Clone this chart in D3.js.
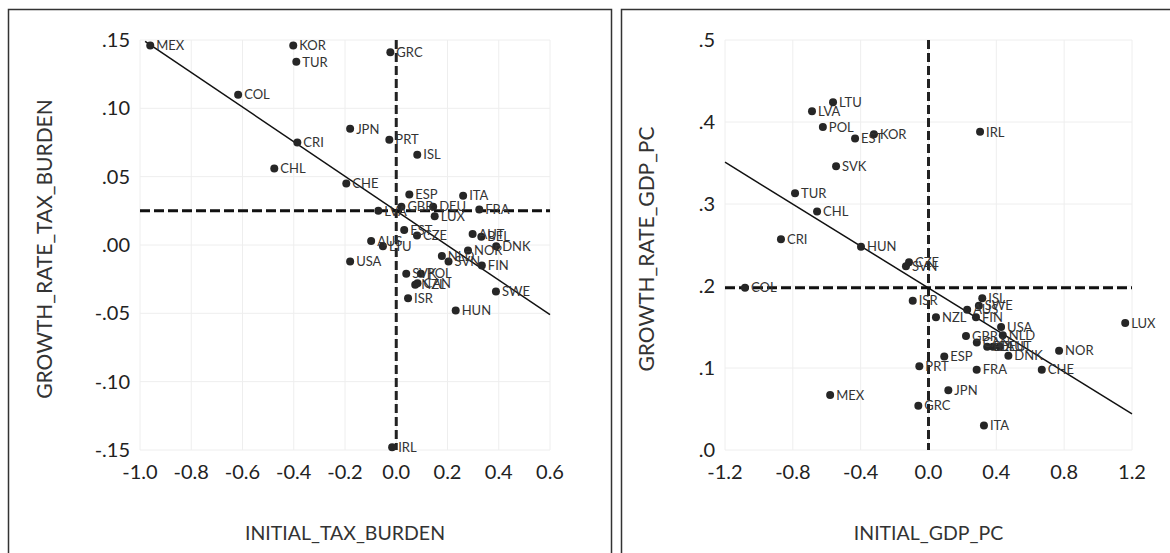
<html>
  <head>
    <script src="https://d3js.org/d3.v7.min.js"></script>
  </head>
  <style type="text/css">
    body { margin: 0; background: #fff; }
    svg { font-family: Lato, "Open Sans", sans-serif; }
    .tick-label { font-size: 20px; fill: #222; }
    .axis-title { font-size: 19.5px; fill: #333; }
    .y-title { font-size: 21px; fill: #333; }
    .code { font-size: 13px; fill: #333; }
    .grid line { stroke: #eeeeee; stroke-width: 1; }
  </style>
  <body>
    <div id="chart"></div>
  </body>
  <script type="text/javascript">
    /* left panel: initial tax burden vs growth rate of tax burden */
    var taxCodes = ["MEX","KOR","TUR","GRC","COL","JPN","PRT","CRI","ISL","CHL","CHE","ESP","ITA","GBR","DEU","FRA","LVA","LUX","EST","CZE","AUT","BEL","DNK","NOR","AUS","LTU","USA","NLD","SVN","FIN","SVK","POL","CAN","NZL","ISR","SWE","HUN","IRL"];
    var taxX = [-0.960,-0.402,-0.390,-0.023,-0.617,-0.180,-0.027,-0.386,0.082,-0.476,-0.195,0.051,0.261,0.020,0.144,0.324,-0.070,0.150,0.031,0.081,0.298,0.332,0.390,0.280,-0.098,-0.052,-0.180,0.178,0.204,0.334,0.039,0.096,0.083,0.074,0.046,0.389,0.232,-0.016];
    var taxY = [0.146,0.146,0.134,0.141,0.110,0.085,0.077,0.075,0.066,0.056,0.045,0.037,0.036,0.028,0.028,0.026,0.025,0.021,0.011,0.007,0.008,0.006,-0.001,-0.004,0.003,-0.001,-0.012,-0.008,-0.012,-0.015,-0.021,-0.021,-0.028,-0.029,-0.039,-0.034,-0.048,-0.148];
    var taxXTicks = [-1.0,-0.8,-0.6,-0.4,-0.2,0.0,0.2,0.4,0.6];
    var taxYTicks = [0.15,0.10,0.05,0.00,-0.05,-0.10,-0.15];
    var taxYLabels = [".15",".10",".05",".00","-.05","-.10","-.15"];
    var taxFitX = [-0.98, 0.60];
    var taxFitY = [0.149, -0.051];
    var taxMeanY = 0.025;

    /* right panel: initial GDP per capita vs growth rate of GDP per capita */
    var gdpCodes = ["LTU","LVA","POL","EST","KOR","IRL","SVK","TUR","CHL","CRI","HUN","CZE","SVN","COL","ISR","ISL","SWE","AUS","FIN","NZL","USA","NLD","GBR","CAN","BEL","DEU","AUT","DNK","NOR","LUX","ESP","PRT","FRA","CHE","JPN","MEX","GRC","ITA"];
    var gdpX = [-0.563,-0.687,-0.623,-0.433,-0.322,0.304,-0.545,-0.787,-0.657,-0.870,-0.398,-0.115,-0.133,-1.082,-0.093,0.317,0.297,0.228,0.280,0.044,0.428,0.438,0.221,0.285,0.346,0.380,0.420,0.471,0.770,1.160,0.093,-0.054,0.284,0.668,0.117,-0.580,-0.060,0.327];
    var gdpY = [0.424,0.413,0.394,0.380,0.385,0.388,0.346,0.313,0.291,0.257,0.248,0.229,0.224,0.198,0.182,0.185,0.176,0.171,0.162,0.162,0.150,0.140,0.139,0.131,0.126,0.126,0.126,0.115,0.121,0.155,0.114,0.102,0.098,0.098,0.073,0.067,0.054,0.030];
    var gdpXTicks = [-1.2,-0.8,-0.4,0.0,0.4,0.8,1.2];
    var gdpYTicks = [0.5,0.4,0.3,0.2,0.1,0.0];
    var gdpYLabels = [".5",".4",".3",".2",".1",".0"];
    var gdpFitX = [-1.2, 1.2];
    var gdpFitY = [0.351, 0.044];
    var gdpMeanY = 0.198;

    var width = 1170, height = 553;
    var svg = d3.select("#chart").append("svg")
      .attr("width", width)
      .attr("height", height);

    function drawPanel(p) {
      var g = svg.append("g");

      g.append("rect")
        .attr("x", p.box[0]).attr("y", p.box[1])
        .attr("width", p.box[2]).attr("height", p.box[3])
        .attr("fill", "none").attr("stroke", "#333").attr("stroke-width", 1.5);

      var x = d3.scaleLinear().domain(p.xDomain).range(p.xRange);
      var y = d3.scaleLinear().domain(p.yDomain).range([450, 40]);

      // grid
      var grid = g.append("g").attr("class", "grid");
      grid.selectAll(".gx").data(p.xTicks).enter().append("line")
        .attr("x1", d => x(d)).attr("x2", d => x(d))
        .attr("y1", y.range()[1]).attr("y2", y.range()[0]);
      grid.selectAll(".gy").data(p.yTicks).enter().append("line")
        .attr("x1", p.xRange[0]).attr("x2", p.xRange[1])
        .attr("y1", d => y(d)).attr("y2", d => y(d));

      // tick labels
      g.selectAll(".xt").data(p.xTicks).enter().append("text")
        .attr("class", "tick-label")
        .attr("x", d => x(d)).attr("y", 479)
        .attr("text-anchor", "middle")
        .text(d => d3.format(".1f")(d).replace("−", "-"));
      g.selectAll(".yt").data(p.yTicks).enter().append("text")
        .attr("class", "tick-label")
        .attr("x", p.xRange[0] - 10).attr("y", d => y(d))
        .attr("dy", "0.35em")
        .attr("text-anchor", "end")
        .text((d, i) => p.yLabels[i]);

      // titles
      g.append("text").attr("class", "axis-title")
        .attr("x", (p.xRange[0] + p.xRange[1]) / 2).attr("y", 540)
        .attr("text-anchor", "middle").text(p.xTitle);
      g.append("text").attr("class", "y-title")
        .attr("transform", `translate(${p.yTitleX}, 249) rotate(-90)`)
        .attr("text-anchor", "middle").text(p.yTitle);

      // mean lines
      g.append("line")
        .attr("x1", x(0)).attr("x2", x(0))
        .attr("y1", y.range()[1]).attr("y2", y.range()[0])
        .attr("stroke", "#222").attr("stroke-width", 3).attr("stroke-dasharray", "9,4");
      g.append("line")
        .attr("x1", p.xRange[0]).attr("x2", p.xRange[1])
        .attr("y1", y(p.meanY)).attr("y2", y(p.meanY))
        .attr("stroke", "#111").attr("stroke-width", 3).attr("stroke-dasharray", "10,4");

      // fit line
      g.append("line")
        .attr("x1", x(p.fitX[0])).attr("y1", y(p.fitY[0]))
        .attr("x2", x(p.fitX[1])).attr("y2", y(p.fitY[1]))
        .attr("stroke", "#111").attr("stroke-width", 1.5);

      // points
      var pts = p.codes.map((c, i) => ({code: c, x: p.xs[i], y: p.ys[i]}));
      g.selectAll(".dot").data(pts).enter().append("circle")
        .attr("cx", d => x(d.x)).attr("cy", d => y(d.y))
        .attr("r", 4).attr("fill", "#262626");
      g.selectAll(".code").data(pts).enter().append("text")
        .attr("class", "code")
        .attr("x", d => x(d.x) + 6).attr("y", d => y(d.y))
        .attr("dy", "0.36em")
        .text(d => d.code);
    }

    drawPanel({
      box: [8.5, 9.5, 603, 560],
      xDomain: [-1.0, 0.6], xRange: [140, 550],
      yDomain: [-0.15, 0.15],
      xTicks: taxXTicks, yTicks: taxYTicks, yLabels: taxYLabels,
      codes: taxCodes, xs: taxX, ys: taxY,
      fitX: taxFitX, fitY: taxFitY, meanY: taxMeanY,
      xTitle: "INITIAL_TAX_BURDEN", yTitle: "GROWTH_RATE_TAX_BURDEN", yTitleX: 52
    });

    drawPanel({
      box: [621.5, 9.5, 560, 560],
      xDomain: [-1.2, 1.2], xRange: [725, 1132],
      yDomain: [0.0, 0.5],
      xTicks: gdpXTicks, yTicks: gdpYTicks, yLabels: gdpYLabels,
      codes: gdpCodes, xs: gdpX, ys: gdpY,
      fitX: gdpFitX, fitY: gdpFitY, meanY: gdpMeanY,
      xTitle: "INITIAL_GDP_PC", yTitle: "GROWTH_RATE_GDP_PC", yTitleX: 654
    });
  </script>
</html>
